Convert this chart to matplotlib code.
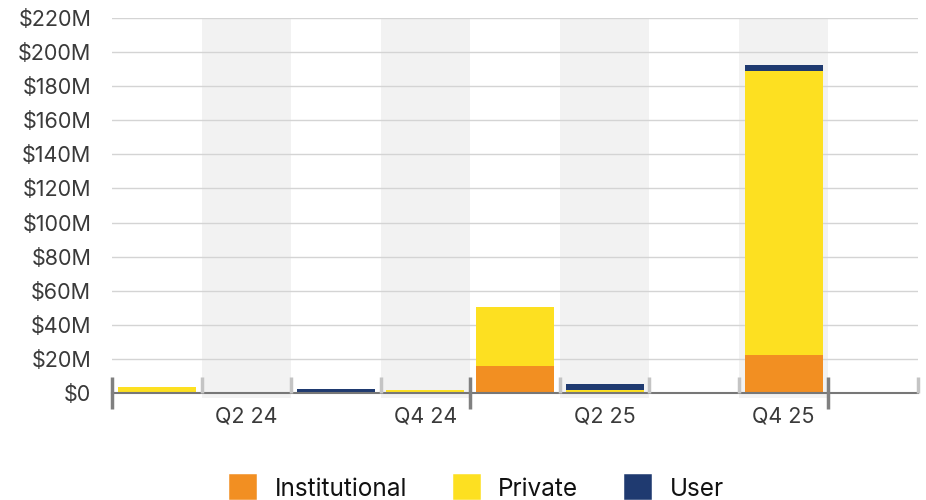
import matplotlib.pyplot as plt
from matplotlib.patches import Patch
from matplotlib.ticker import FuncFormatter

plt.rcParams['font.family'] = ['Inter', 'DejaVu Sans']

# 季度与数值（单位：百万美元）
quarters = ['Q1 24', 'Q2 24', 'Q3 24', 'Q4 24', 'Q1 25', 'Q2 25', 'Q3 25', 'Q4 25', 'Q1 26']
institutional = [0.3, 0, 0, 0, 15.8, 0, 0, 22.1, 0]
private = [3.2, 0, 0, 2.0, 34.6, 1.7, 0, 167.0, 0]
user = [0, 0, 2.5, 0, 0, 3.8, 0, 3.4, 0]

c_inst = '#F28F22'
c_priv = '#FDE021'
c_user = '#1F3A70'

fig = plt.figure(figsize=(9.26, 5), dpi=100)
ax = fig.add_axes([112 / 926, 107 / 500, 806 / 926, 375 / 500])

x = list(range(len(quarters)))
w = 0.87
ax.bar(x, institutional, w, color=c_inst, zorder=3)
ax.bar(x, private, w, bottom=institutional, color=c_priv, zorder=3)
bottom2 = [a + b for a, b in zip(institutional, private)]
ax.bar(x, user, w, bottom=bottom2, color=c_user, zorder=3)

# 灰色背景条纹（Q2 / Q4）
for i in x:
    if i % 2 == 1:
        ax.axvspan(i - 0.5, i + 0.5, ymin=-0.014, ymax=1, color='#F2F2F2',
                   zorder=0, clip_on=False, lw=0)

ax.set_xlim(-0.5, len(quarters) - 0.5)
ax.set_ylim(0, 220)
ax.set_yticks(range(0, 221, 20))
ax.yaxis.set_major_formatter(FuncFormatter(lambda v, p: '$0' if v == 0 else f'${v:.0f}M'))
ax.yaxis.grid(True, color='#D4D4D4', lw=1, zorder=1)
ax.set_axisbelow(True)

ax.set_xticks([i for i in x if i % 2 == 1])
ax.set_xticklabels([quarters[i] for i in x if i % 2 == 1])
ax.tick_params(axis='both', length=0, labelsize=15.5, labelcolor='#3a3a3a')
ax.tick_params(axis='y', pad=15)
ax.tick_params(axis='x', pad=10)

for s in ['top', 'right', 'left']:
    ax.spines[s].set_visible(False)
ax.spines['bottom'].set_color('#777777')
ax.spines['bottom'].set_linewidth(1.5)
ax.spines['bottom'].set_zorder(4)

# 分隔刻度
tr = ax.get_xaxis_transform()
for b in [i - 0.5 for i in range(len(quarters) + 1)]:
    if b in (-0.5, 3.5, 7.5):
        ax.plot([b, b], [-0.043, 0.043], color='#808080', lw=2.5, transform=tr,
                clip_on=False, zorder=5, solid_capstyle='butt')
    else:
        ax.plot([b, b], [0, 0.043], color='#C4C4C4', lw=2.5, transform=tr,
                clip_on=False, zorder=5, solid_capstyle='butt')

handles = [Patch(facecolor=c, edgecolor=c, lw=4, joinstyle='round', label=l)
           for c, l in [(c_inst, 'Institutional'), (c_priv, 'Private'), (c_user, 'User')]]
fig.legend(handles=handles, loc='center', bbox_to_anchor=(478 / 926, 1 - 489 / 500),
           ncol=3, frameon=False, fontsize=17.5, handlelength=0.9, handleheight=0.9,
           handletextpad=0.85, columnspacing=2.0, labelcolor='#111111')

fig.savefig('out.png', dpi=100)
